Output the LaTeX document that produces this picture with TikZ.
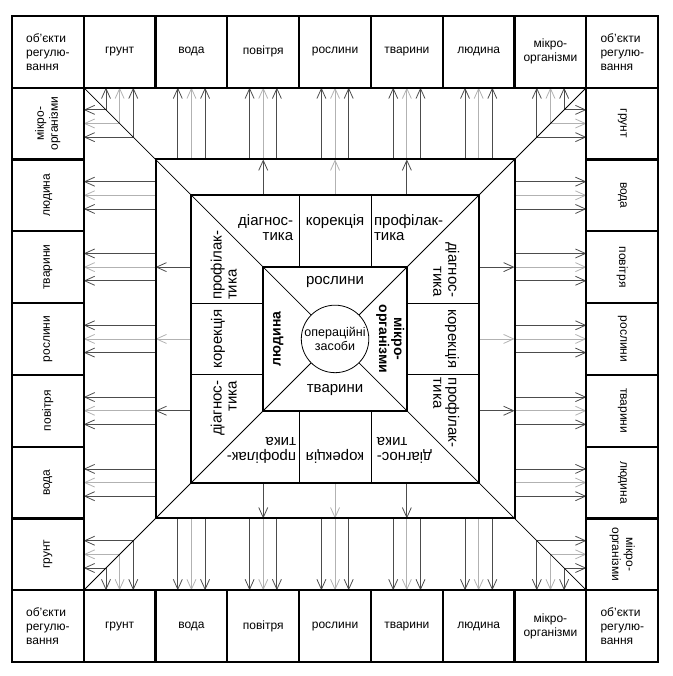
\documentclass[tikz,border=0pt]{standalone}
\usepackage{fontspec}
\setmainfont{Liberation Sans}
\usetikzlibrary{arrows.meta}
\tikzset{cell/.style = {draw, line width=2.2pt, minimum size=71.8pt, inner sep=1pt,
                        align=center, font=\fontsize{12}{14}\selectfont},
         corner/.style = {cell, align=left},
         darr/.style = {-{Straight Barb[length=10pt,width=9pt]}, line width=0.8pt, draw=black!70},
         larr/.style = {darr, draw=black!30},
         sqline/.style = {line width=2pt},
         thinline/.style = {line width=0.8pt},
         ringtext/.style = {inner sep=0pt, font=\fontsize{15}{15}\selectfont},
         midtext/.style = {inner sep=0pt, font=\fontsize{14}{15}\selectfont\bfseries}}

\begin{document}
\begin{tikzpicture}[x=71.8pt, y=71.8pt]
    \useasboundingbox (-4.666, -4.694) rectangle (4.694, 4.72);

    % arrows, the same on every side
    \foreach \a in {0, 90, 180, 270} {
      \begin{scope}[rotate=\a]
        \foreach \k in {-2, ..., 2}
          \foreach \d/\s in {-0.19/darr, 0/larr, 0.19/darr}
            \draw [\s] ({\k+\d}, 2.5) -- ({\k+\d}, 3.5);
        \foreach \d/\s in {-0.19/darr, 0/larr, 0.19/darr} {
          \draw [\s] ({-3+\d}, {3-(\d)}) -- ({-3+\d}, 3.5);
          \draw [\s] ({3+\d}, {3+\d}) -- ({3+\d}, 3.5);
        }
        \foreach \k/\s in {-1/darr, 0/larr, 1/darr}
          \draw [\s] (\k, 2) -- (\k, 2.5);
        \draw [thinline] (-0.5, 1) -- (-0.5, 2);
        \draw [thinline] (0.5, 1) -- (0.5, 2);
        \node [ringtext, rotate=\a, anchor=east, align=right] (diag\a) at (-0.58, 1.55) {діагнос-\\тика};
        \node [ringtext, rotate=\a] (kor\a) at (0, 1.63) {корекція};
        \node [ringtext, rotate=\a, anchor=west, align=left] (prof\a) at (0.54, 1.55) {профілак-\\тика};
      \end{scope}
    }

    \foreach \a in {45, 135, 225, 315}
      \draw [thinline] (\a:4.95) -- (\a:0.47);

    \draw [sqline] (-2.5, -2.5) rectangle (2.5, 2.5);
    \draw [sqline] (-2, -2) rectangle (2, 2);
    \draw [sqline] (-1, -1) rectangle (1, 1);

    \node [circle, draw, thinline, fill=white, minimum size=67.5pt, inner sep=0pt, align=center,
           font=\fontsize{12.5}{14}\selectfont] (zasoby) at (0, 0) {операційні\\засоби};

    \node [ringtext] (roslyny) at (0, 0.79) {рослини};
    \node [ringtext] (tvaryny) at (0, -0.71) {тварини};
    \node [midtext, rotate=90] (lyudyna) at (-0.79, 0) {людина};
    \node [midtext, rotate=-90, align=center] (mikro) at (0.77, 0) {мікро-\\організми};

    % outer ring of cells
    \node [corner] (otl) at (-4, 4) {об'єкти\\регулю-\\вання};
    \node [corner] (otr) at (4, 4) {об'єкти\\регулю-\\вання};
    \node [corner] (obl) at (-4, -4) {об'єкти\\регулю-\\вання};
    \node [corner] (obr) at (4, -4) {об'єкти\\регулю-\\вання};
    \foreach \t [count=\n] in {грунт, вода, повітря, рослини, тварини, людина, {мікро-\\організми}} {
      \node [cell] (top\n) at (\n-4, 4) {\t};
      \node [cell] (bot\n) at (\n-4, -4) {\t};
      \node [cell, rotate=90] (left\n) at (-4, \n-4) {\t};
      \node [cell, rotate=-90] (right\n) at (4, 4-\n) {\t};
    }
\end{tikzpicture}
\end{document}
